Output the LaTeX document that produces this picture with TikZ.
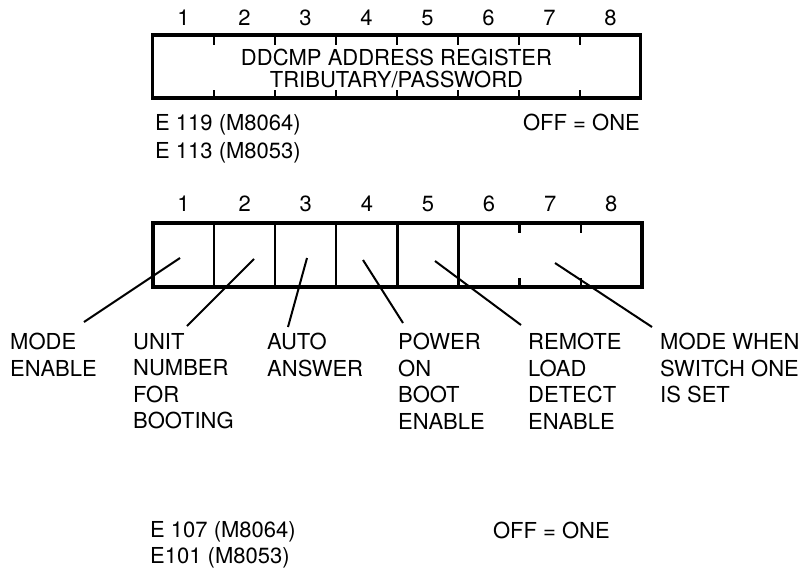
\documentclass[tikz,border=0pt]{standalone}
\usepackage{fontspec}
\setmainfont{TeX Gyre Heros}
\usetikzlibrary{positioning}
\tikzset{
  every picture/.style={x=1pt, y=-1pt, font=\fontsize{22}{26.5}\selectfont},
  regbox/.style={draw, line width=3.5pt, minimum width=488pt, minimum height=63pt, inner sep=0pt},
  swdiv/.style={line width=2.3pt},
  swtick/.style={line width=2.3pt},
  lead/.style={line width=2pt},
  lbl/.style={anchor=north west, inner sep=0pt, align=left},
  num/.style={inner sep=0pt},
}

\begin{document}
\begin{tikzpicture}
  \useasboundingbox (0,0) rectangle (805,567);
  % address register
  \node[regbox] (regtop) at (396.5,66.5) {};
  \node[align=center, font=\fontsize{22}{22}\selectfont] (regtxt) at (396.5,69) {DDCMP ADDRESS REGISTER\\TRIBUTARY/PASSWORD};
  \foreach \k in {1,...,8} {
    \node[num] (ta\k) at (153+61*\k-30.5,18) {\k};
  }
  \foreach \k in {1,...,7} {
    \draw[swtick] (153+61*\k,35) -- ++(0,10);
    \draw[swtick] (153+61*\k,98) -- ++(0,-8);
  }
  \node[lbl, font=\fontsize{22}{28}\selectfont] (etop) at (155,114) {E 119 (M8064)\\E 113 (M8053)};
  \node[anchor=base east, inner sep=0pt] (offtop) at (640,130) {OFF = ONE};

  % option switches
  \node[regbox, minimum width=489pt, minimum height=64pt] (regsw) at (397.5,255) {};
  \foreach \k in {1,...,8} {
    \node[num] (tb\k) at (153+61.1*\k-30.5,204) {\k};
  }
  \foreach \k in {1,...,5} {
    \draw[swdiv] (153+61.1*\k,223) -- (153+61.1*\k,287);
  }
  \foreach \k in {6,7} {
    \draw[swtick] (153+61.1*\k,223) -- ++(0,10);
    \draw[swtick] (153+61.1*\k,287) -- ++(0,-9);
  }

  \node[lbl] (lmode) at (10,333) {MODE\\ENABLE};
  \node[lbl] (lunit) at (133,333) {UNIT\\NUMBER\\FOR\\BOOTING};
  \node[lbl] (lauto) at (267,333) {AUTO\\ANSWER};
  \node[lbl] (lpower) at (398,333) {POWER\\ON\\BOOT\\ENABLE};
  \node[lbl] (lremote) at (528,333) {REMOTE\\LOAD\\DETECT\\ENABLE};
  \node[lbl] (lwhen) at (660,333) {MODE WHEN\\SWITCH ONE\\IS SET};

  \foreach \i/\sx/\sy/\ex/\ey in {1/180/258/84/322, 2/254/259/187/326, 3/307/258/288/327,
                                  4/363/260/403/323, 5/435/261/521/325, 6/555/263/652/327} {
    \coordinate (s\i) at (\sx,\sy);
    \coordinate (e\i) at (\ex,\ey);
    \draw[lead] (s\i) -- (e\i);
  }

  \node[lbl] (ebot) at (150,521) {E 107 (M8064)\\E101 (M8053)};
  \node[anchor=base east, inner sep=0pt] (offbot) at (610,538) {OFF = ONE};
\end{tikzpicture}
\end{document}
